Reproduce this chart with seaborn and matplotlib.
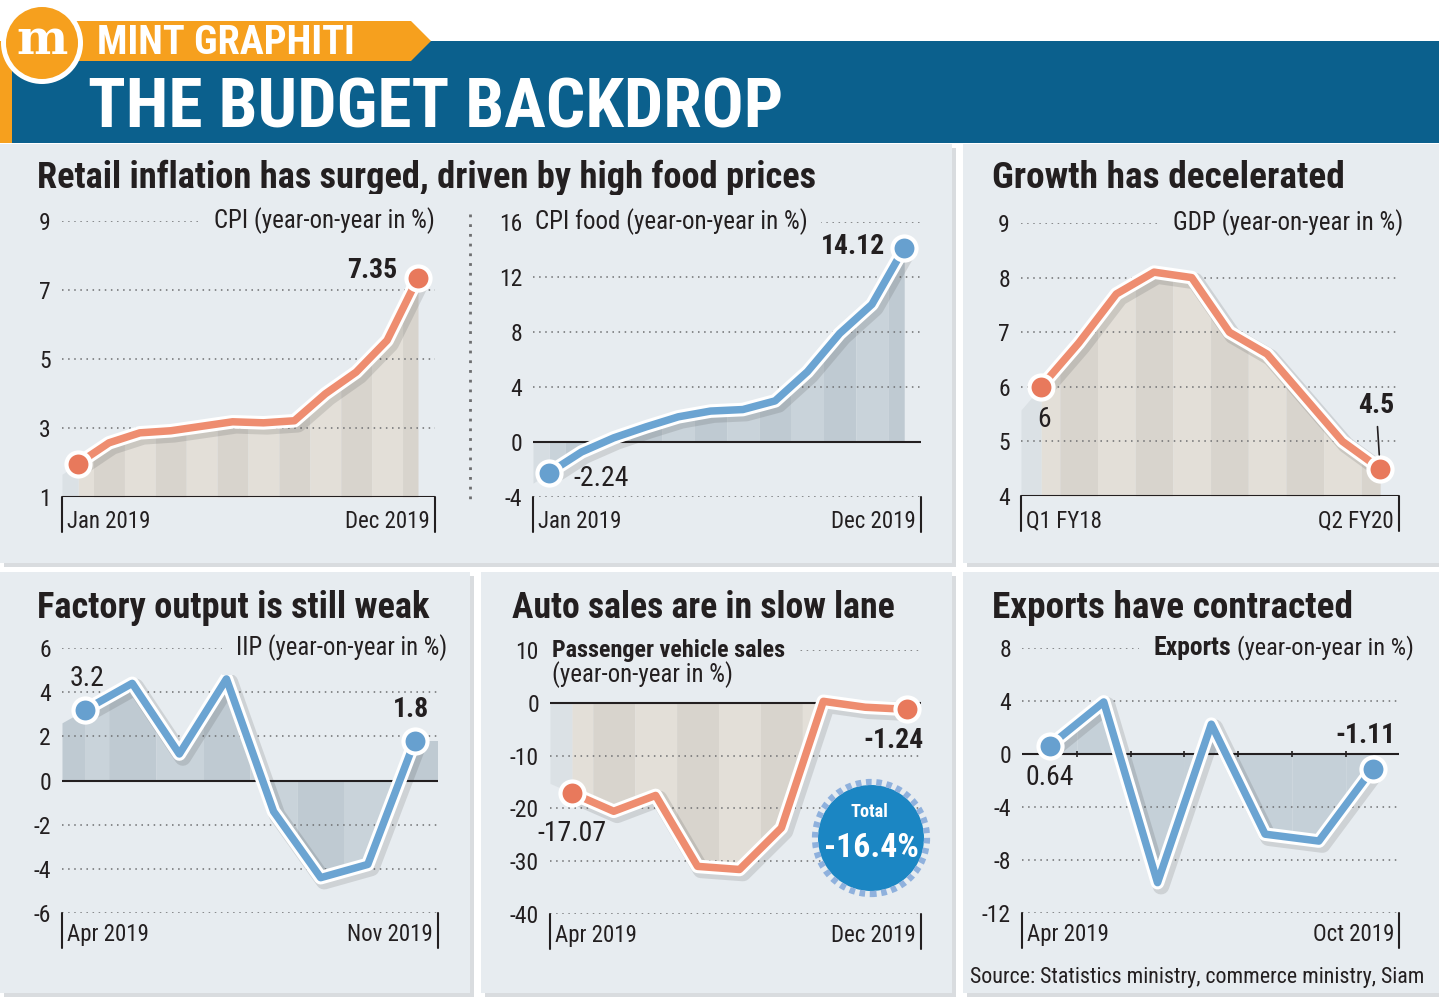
import numpy as np
import pandas as pd
import matplotlib
matplotlib.use("Agg")
import matplotlib.pyplot as plt
import matplotlib.patheffects as pe
from matplotlib import font_manager
from matplotlib.patches import Rectangle, Circle, Polygon
import seaborn as sns

# Data
cpi_months = ["Jan 2019", "Feb 2019", "Mar 2019", "Apr 2019", "May 2019", "Jun 2019",
              "Jul 2019", "Aug 2019", "Sep 2019", "Oct 2019", "Nov 2019", "Dec 2019"]
cpi = [1.97, 2.57, 2.86, 2.92, 3.05, 3.18, 3.15, 3.21, 3.99, 4.62, 5.54, 7.35]
cpi_food = [-2.24, -0.73, 0.30, 1.10, 1.83, 2.25, 2.36, 2.99, 5.11, 7.89, 10.01, 14.12]

gdp_quarters = ["Q1 FY18", "Q2 FY18", "Q3 FY18", "Q4 FY18", "Q1 FY19",
                "Q2 FY19", "Q3 FY19", "Q4 FY19", "Q1 FY20", "Q2 FY20"]
gdp = [6.0, 6.8, 7.7, 8.1, 8.0, 7.0, 6.6, 5.8, 5.0, 4.5]

iip_months = ["Apr 2019", "May 2019", "Jun 2019", "Jul 2019", "Aug 2019",
              "Sep 2019", "Oct 2019", "Nov 2019"]
iip = [3.2, 4.4, 1.2, 4.6, -1.4, -4.4, -3.8, 1.8]

auto_months = ["Apr 2019", "May 2019", "Jun 2019", "Jul 2019", "Aug 2019",
               "Sep 2019", "Oct 2019", "Nov 2019", "Dec 2019"]
auto_sales = [-17.07, -20.55, -17.54, -30.98, -31.57, -23.69, 0.28, -0.84, -1.24]
auto_total = "-16.4%"

export_months = ["Apr 2019", "May 2019", "Jun 2019", "Jul 2019", "Aug 2019",
                 "Sep 2019", "Oct 2019"]
exports = [0.64, 3.93, -9.71, 2.25, -6.05, -6.57, -1.11]

# Style
sns.set_theme(style="white")
names = {f.name for f in font_manager.fontManager.ttflist}
FONT = next((f for f in ["Roboto Condensed", "Liberation Sans Narrow", "Lato"] if f in names), "DejaVu Sans")
plt.rcParams["font.family"] = [FONT, "DejaVu Sans"]
plt.rcParams["axes.unicode_minus"] = False

TXT = "#231f20"
PANEL = "#e7ecf0"
BLUE_BAND = "#0b608d"
ORANGE = "#f6a01e"
GRID = "#6d6e70"
RED_LINE, RED_DOT = "#ee8d70", "#e8795c"
BLUE_LINE, BLUE_DOT = "#6ba4d2", "#67a0cf"
BEIGE = ["#e3dfd8", "#d8d4cd"]
SLATE = ["#c9d3da", "#bfcad2"]
TICK_SIZE = 17
PERIOD_SIZE = 16.5

W, H = 1439, 997
fig = plt.figure(figsize=(W / 100, H / 100), dpi=100, facecolor="white")
bg = fig.add_axes([0, 0, 1, 1])
bg.set_xlim(0, W)
bg.set_ylim(H, 0)
bg.axis("off")


def fit(t, width, max_size=None):
    w = t.get_window_extent(fig.canvas.get_renderer()).width
    size = t.get_fontsize() * width / w
    if max_size is not None:
        size = min(size, max_size)
    t.set_fontsize(size)
    return t


# Header
bg.add_patch(Rectangle((12, 41), W - 12, 102, color=BLUE_BAND, lw=0))
bg.add_patch(Rectangle((0, 41), 12, 102, color=ORANGE, lw=0))
bg.add_patch(Polygon([(30, 21), (411, 21), (431, 41), (411, 61), (30, 61)], color=ORANGE, lw=0))
bg.add_patch(Circle((42, 43), 41, color="white", lw=0))
bg.add_patch(Circle((42, 43), 36, color=ORANGE, lw=0))
bg.text(42, 54, "m", family=["DejaVu Serif"], weight="bold", color="white", ha="center", va="baseline", fontsize=35)
fit(bg.text(97, 54, "MINT GRAPHITI", weight="black", color="white", va="baseline", fontsize=29), 281, 29)
fit(bg.text(88, 128, "THE BUDGET BACKDROP", weight="black", color="white", va="baseline", fontsize=50), 704, 50)

# Panels
panels = [(0, 144, 952, 563), (963, 144, 1439, 563), (0, 572, 470, 993), (481, 572, 952, 993), (963, 572, 1439, 993)]
for x0, y0, x1, y1 in panels:
    bg.add_patch(Rectangle((x0 + 4, y0 + 4), x1 - x0, y1 - y0, color="#d9dcdf", lw=0))
    bg.add_patch(Rectangle((x0, y0), x1 - x0, y1 - y0, color=PANEL, lw=0))

titles = [("Retail inflation has surged, driven by high food prices", 37, 188, 780),
          ("Growth has decelerated", 992, 188, 353),
          ("Factory output is still weak", 37, 618, 394),
          ("Auto sales are in slow lane", 512, 618, 384),
          ("Exports have contracted", 992, 618, 362)]
for s, x, y, w in titles:
    fit(bg.text(x, y, s, weight="bold", color=TXT, va="baseline", fontsize=24), w)

bg.plot([470, 470], [214, 505], color=GRID, ls=(0, (1, 2.5)), lw=2)
fit(bg.text(970, 983, "Source: Statistics ministry, commerce ministry, Siam", color=TXT, va="baseline", fontsize=15), 455)


def chart(box, values, periods, ylim, yticks, xlim, base, colors, stripes, lead=None, tail=False, drop_text=13):
    left, right, top, bottom = box
    ax = fig.add_axes([left / W, 1 - bottom / H, (right - left) / W, (bottom - top) / H])
    ax.patch.set_alpha(0)
    x = np.arange(len(values))
    y = np.array(values, dtype=float)
    n = len(y)
    ax.set_xlim(*xlim)
    ax.set_ylim(*ylim)

    # striped area under the line
    for i in range(n):
        xs = np.unique([max(i - 0.5, 0), i, min(i + 0.5, n - 1)])
        ax.fill_between(xs, base, np.interp(xs, x, y), color=stripes[i % 2], lw=0, zorder=0.2)
    if lead is not None:
        y_left = y[0] + (y[1] - y[0]) * xlim[0]
        ax.fill_between([xlim[0], 0], base, [y_left, y[0]], color=lead, lw=0, zorder=0.2)
    if tail:
        ax.fill_between([n - 1, xlim[1]], base, [y[-1], y[-1]], color=stripes[(n - 1) % 2], lw=0, zorder=0.2)

    ax.set_yticks(yticks)
    ax.set_yticklabels([str(t) for t in yticks])
    ax.set_xticks([])
    ax.grid(axis="y", color=GRID, linestyle=(0, (1, 3)), linewidth=1.1)
    ax.set_axisbelow(True)
    ax.tick_params(axis="y", length=0, pad=8, labelsize=TICK_SIZE, labelcolor=TXT)
    for sp in ax.spines.values():
        sp.set_visible(False)

    ax.axhline(base, color=TXT, lw=1.5, zorder=0.6)
    drop = 35 / (bottom - top)
    for xb in (0, 1):
        ax.plot([xb, xb], [0, -drop], transform=ax.transAxes, clip_on=False, color=TXT, lw=1.5)

    sns.lineplot(x=x, y=y, ax=ax, color=colors[0], linewidth=5.4, zorder=3, sort=False, estimator=None)
    line = ax.lines[-1]
    line.set_solid_joinstyle("round")
    line.set_solid_capstyle("round")
    line.set_clip_on(False)
    line.set_path_effects([pe.SimpleLineShadow(offset=(2.5, -2.5), alpha=0.12, linewidth=12),
                           pe.Stroke(linewidth=9.8, foreground="white"), pe.Normal()])
    dots = sns.scatterplot(x=x[[0, -1]], y=y[[0, -1]], ax=ax, s=300, color=colors[1],
                           edgecolor="white", linewidth=3, zorder=5, legend=False)
    dots.collections[-1].set_clip_on(False)

    ax.annotate(periods[0], (0, 0), xycoords="axes fraction", xytext=(5, -drop_text), textcoords="offset pixels",
                ha="left", va="top", fontsize=PERIOD_SIZE, color=TXT)
    ax.annotate(periods[-1], (1, 0), xycoords="axes fraction", xytext=(-5, -drop_text), textcoords="offset pixels",
                ha="right", va="top", fontsize=PERIOD_SIZE, color=TXT)
    return ax, x, y


def note(ax, s, xy, dx, dy, bold=False, ha="center", **kw):
    return ax.annotate(s, xy, xytext=(dx, dy), textcoords="offset pixels", ha=ha, va="center",
                       fontsize=20, weight="bold" if bold else "normal",
                       color=TXT, zorder=6, **kw)


def series_label(ax, s, xa, y, ha, width, bold=False, pad=0.55):
    t = ax.text(xa, y, s, transform=ax.get_yaxis_transform(), ha=ha, va="center", color=TXT, zorder=3,
                fontsize=15, weight="bold" if bold else "normal",
                bbox=dict(boxstyle=f"square,pad={pad}", fc=PANEL, ec="none"))
    return fit(t, width)


# CPI
ax, x, y = chart((62, 435, 221, 497), cpi, cpi_months, (1, 9), [1, 3, 5, 7, 9], (-0.52, 11.55), 1,
                 (RED_LINE, RED_DOT), BEIGE, lead="#dbe1e5")
series_label(ax, "CPI (year-on-year in %)", 1, 9, "right", 221)
note(ax, f"{cpi[-1]:.2f}", (x[-1], y[-1]), -21, 7, bold=True, ha="right")

# CPI food
ax, x, y = chart((533, 921, 222, 497), cpi_food, cpi_months, (-4, 16), [-4, 0, 4, 8, 12, 16], (-0.5, 11.52), 0,
                 (BLUE_LINE, BLUE_DOT), SLATE, lead="#d6dde2")
series_label(ax, "CPI food (year-on-year in %)", 0.005, 16, "left", 273)
note(ax, f"{cpi_food[-1]:.2f}", (x[-1], y[-1]), -19, 1, bold=True, ha="right")
note(ax, f"{cpi_food[0]:.2f}", (x[0], y[0]), 24, -6, ha="left")

# GDP
ax, x, y = chart((1021, 1399, 223, 496), gdp, gdp_quarters, (4, 9), [4, 5, 6, 7, 8, 9], (-0.53, 9.5), 4,
                 (RED_LINE, RED_DOT), BEIGE, lead="#dbe1e5")
series_label(ax, "GDP (year-on-year in %)", 1.01, 9, "right", 231)
note(ax, f"{gdp[0]:g}", (x[0], y[0]), 3, -33)
note(ax, f"{gdp[-1]:g}", (x[-1], y[-1]), -4, 63, bold=True,
     arrowprops=dict(arrowstyle="-", color=TXT, lw=1.2, shrinkA=3, shrinkB=10))

# IIP
ax, x, y = chart((62, 438, 648, 913), iip, iip_months, (-6, 6), [-6, -4, -2, 0, 2, 4, 6], (-0.49, 7.49), 0,
                 (BLUE_LINE, BLUE_DOT), SLATE, lead=SLATE[1], tail=True, drop_text=10)
series_label(ax, "IIP (year-on-year in %)", 1.024, 6, "right", 211)
note(ax, f"{iip[0]:g}", (x[0], y[0]), 2, 31)
note(ax, f"{iip[-1]:g}", (x[-1], y[-1]), -4, 31, bold=True)

# Auto sales
ax, x, y = chart((550, 921, 650, 914), auto_sales, auto_months, (-40, 10), [-40, -30, -20, -10, 0, 10],
                 (-0.52, 8.33), 0, (RED_LINE, RED_DOT), BEIGE, lead="#dbe1e5", drop_text=10)
series_label(ax, "Passenger vehicle sales", 0.005, 10, "left", 233, bold=True)
fit(ax.annotate("(year-on-year in %)", (0.005, 10), xycoords=ax.get_yaxis_transform(), xytext=(0, -25),
                textcoords="offset pixels", ha="left", va="center", color=TXT, fontsize=15), 181)
note(ax, f"{auto_sales[0]:.2f}", (x[0], y[0]), 0, -41)
note(ax, f"{auto_sales[-1]:.2f}", (x[-1], y[-1]), -14, -31, bold=True)

# Exports
ax, x, y = chart((1022, 1399, 648, 913), exports, export_months, (-12, 8), [-12, -8, -4, 0, 4, 8],
                 (-0.52, 6.49), 0, (BLUE_LINE, BLUE_DOT), ["#c5d0d8", "#c5d0d8"], drop_text=10)
ax.vlines(x[:-1] + 0.5, -0.25, 0.25, color=TXT, lw=1.2, zorder=0.6)
reg = series_label(ax, "(year-on-year in %)", 1.04, 8, "right", 178, pad=0.15)
exp_lbl = ax.annotate("Exports", (0, 0.5), xycoords=reg, xytext=(-6, 0), textcoords="offset pixels",
                      ha="right", va="center", color=TXT, weight="bold", fontsize=15, zorder=2.9,
                      bbox=dict(boxstyle="square,pad=0.55", fc=PANEL, ec="none"))
fit(exp_lbl, 78)
note(ax, f"{exports[0]:.2f}", (x[0], y[0]), 0, -32)
note(ax, f"{exports[-1]:.2f}", (x[-1], y[-1]), -7, 33, bold=True)

# Total badge
bax = fig.add_axes([806 / W, 1 - 903 / H, 130 / W, 130 / H])
bax.set_xlim(-65, 65)
bax.set_ylim(-65, 65)
bax.axis("off")
bax.add_patch(Circle((0, 0), 53, color="#1b86c3", lw=0))
bax.add_patch(Circle((0, 0), 56, fill=False, ec="#8fb1dd", lw=4.5, ls=(0, (0.9, 0.75))))
fit(bax.text(-2, 26, "Total", ha="center", va="center", color="white", weight="bold", fontsize=13), 38)
fit(bax.text(0, -10, auto_total, ha="center", va="center", color="white", weight="bold", fontsize=26), 95)

fig.savefig("out.png", dpi=100, facecolor="white")
